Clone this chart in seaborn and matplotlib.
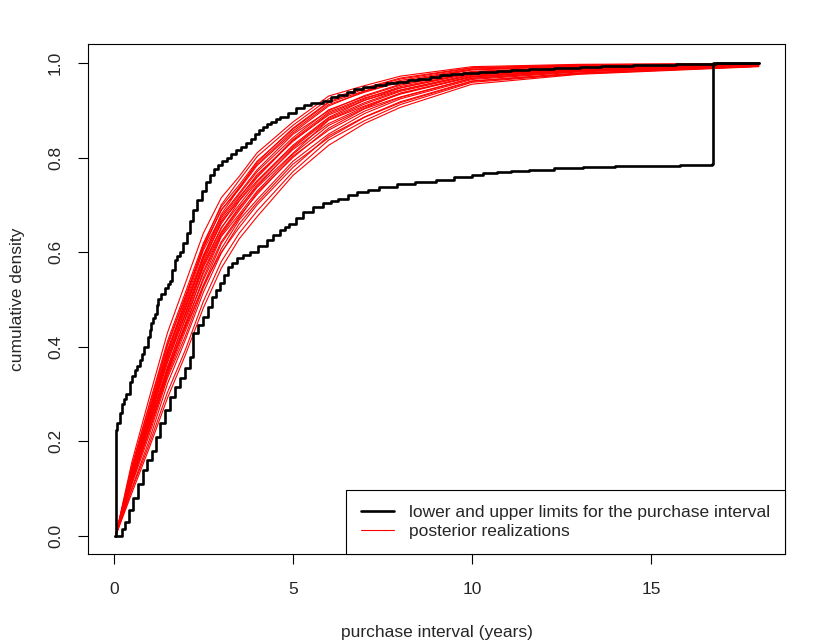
import pandas as pd
import matplotlib
matplotlib.use("Agg")
import matplotlib.pyplot as plt
from matplotlib.lines import Line2D
import seaborn as sns

# Upper and lower limits (step curves)
upper_x = [0.03, 0.05, 0.10, 0.16, 0.22, 0.28, 0.35, 0.45, 0.52, 0.60, 0.66, 0.73,
           0.80, 0.85, 0.95, 1.00, 1.05, 1.10, 1.15, 1.20, 1.23, 1.32, 1.42, 1.50,
           1.56, 1.63, 1.70, 1.77, 1.84, 1.94, 2.04, 2.12, 2.20, 2.33, 2.46, 2.57,
           2.68, 2.80, 2.90, 3.03, 3.16, 3.28, 3.40, 3.55, 3.70, 3.82, 3.95, 4.06,
           4.16, 4.28, 4.40, 4.52, 4.64, 4.85, 5.10, 5.30, 5.50, 5.84, 6.05, 6.26,
           6.50, 6.70, 6.96, 7.30, 7.60, 7.90, 8.20, 8.50, 8.83, 9.10, 9.40, 9.75,
           10.2, 10.7, 11.1, 11.6, 12.3, 13.0, 13.6, 14.5, 15.7, 16.8, 18.0]
upper_y = [0.0, 0.225, 0.24, 0.26, 0.28, 0.29, 0.30, 0.326, 0.338, 0.35, 0.36, 0.372,
           0.385, 0.40, 0.42, 0.435, 0.45, 0.46, 0.47, 0.488, 0.50, 0.512, 0.524, 0.532,
           0.54, 0.562, 0.584, 0.592, 0.60, 0.62, 0.64, 0.665, 0.69, 0.71, 0.73, 0.748,
           0.763, 0.775, 0.785, 0.793, 0.80, 0.808, 0.815, 0.823, 0.83, 0.84, 0.85, 0.858,
           0.865, 0.87, 0.875, 0.881, 0.886, 0.895, 0.905, 0.91, 0.915, 0.92, 0.927, 0.932,
           0.938, 0.944, 0.949, 0.953, 0.957, 0.96, 0.964, 0.967, 0.97, 0.974, 0.977, 0.979,
           0.981, 0.983, 0.985, 0.987, 0.99, 0.992, 0.994, 0.996, 0.998, 0.999, 1.0]

lower_x = [0.03, 0.17, 0.24, 0.30, 0.42, 0.53, 0.67, 0.81, 0.94, 1.06, 1.17, 1.28,
           1.42, 1.56, 1.70, 1.84, 1.98, 2.12, 2.20, 2.35, 2.49, 2.62, 2.74, 2.85,
           2.96, 3.07, 3.18, 3.30, 3.43, 3.62, 3.80, 4.03, 4.27, 4.45, 4.64, 4.77,
           4.90, 5.09, 5.28, 5.56, 5.84, 6.05, 6.26, 6.53, 6.80, 7.10, 7.40, 7.90,
           8.40, 9.00, 9.50, 10.0, 10.3, 10.7, 11.1, 11.6, 12.3, 13.1, 14.0, 15.0,
           15.8, 16.7, 16.73, 18.0]
lower_y = [0.0, 0.0, 0.015, 0.03, 0.055, 0.08, 0.11, 0.14, 0.16, 0.18, 0.21, 0.24,
           0.267, 0.294, 0.314, 0.334, 0.356, 0.378, 0.43, 0.447, 0.463, 0.484, 0.505, 0.52,
           0.535, 0.552, 0.569, 0.578, 0.588, 0.594, 0.60, 0.613, 0.626, 0.637, 0.647, 0.653,
           0.66, 0.672, 0.685, 0.695, 0.704, 0.708, 0.712, 0.72, 0.727, 0.732, 0.737, 0.744,
           0.748, 0.753, 0.758, 0.763, 0.767, 0.77, 0.772, 0.774, 0.777, 0.78, 0.782, 0.783,
           0.785, 0.786, 1.0, 1.0]

# Posterior realizations: sampled at common x values
post_x = [0.05, 0.5, 1.0, 1.5, 2.0, 2.5, 3.0, 3.5, 4.0, 5.0, 6.0, 7.0, 8.0, 10.0, 13.0, 18.0]
post_draws = [
    [0.0, 0.090, 0.188, 0.292, 0.383, 0.482, 0.566, 0.628, 0.675, 0.762, 0.826, 0.872, 0.906, 0.955, 0.976, 0.992],
    [0.0, 0.097, 0.196, 0.304, 0.394, 0.496, 0.580, 0.640, 0.687, 0.770, 0.837, 0.878, 0.912, 0.959, 0.977, 0.993],
    [0.0, 0.125, 0.240, 0.350, 0.440, 0.530, 0.600, 0.652, 0.700, 0.779, 0.846, 0.886, 0.918, 0.962, 0.979, 0.993],
    [0.0, 0.100, 0.205, 0.322, 0.415, 0.515, 0.598, 0.660, 0.705, 0.786, 0.842, 0.885, 0.916, 0.961, 0.978, 0.993],
    [0.0, 0.108, 0.216, 0.334, 0.423, 0.525, 0.607, 0.668, 0.711, 0.792, 0.850, 0.893, 0.924, 0.965, 0.981, 0.994],
    [0.0, 0.113, 0.224, 0.339, 0.434, 0.530, 0.618, 0.672, 0.726, 0.800, 0.862, 0.903, 0.928, 0.968, 0.983, 0.994],
    [0.0, 0.111, 0.228, 0.343, 0.446, 0.541, 0.622, 0.676, 0.722, 0.803, 0.858, 0.898, 0.927, 0.967, 0.982, 0.994],
    [0.0, 0.117, 0.226, 0.347, 0.444, 0.546, 0.633, 0.680, 0.729, 0.807, 0.868, 0.904, 0.936, 0.970, 0.984, 0.995],
    [0.0, 0.121, 0.237, 0.356, 0.459, 0.555, 0.636, 0.688, 0.737, 0.809, 0.879, 0.909, 0.936, 0.972, 0.985, 0.995],
    [0.0, 0.119, 0.234, 0.352, 0.450, 0.560, 0.640, 0.692, 0.743, 0.817, 0.872, 0.907, 0.934, 0.971, 0.985, 0.995],
    [0.0, 0.124, 0.242, 0.357, 0.461, 0.568, 0.643, 0.695, 0.739, 0.820, 0.880, 0.913, 0.940, 0.974, 0.986, 0.996],
    [0.0, 0.126, 0.247, 0.366, 0.472, 0.575, 0.652, 0.700, 0.748, 0.823, 0.883, 0.916, 0.942, 0.975, 0.987, 0.996],
    [0.0, 0.127, 0.252, 0.370, 0.468, 0.571, 0.650, 0.708, 0.751, 0.826, 0.885, 0.921, 0.943, 0.976, 0.988, 0.996],
    [0.0, 0.130, 0.253, 0.377, 0.470, 0.579, 0.664, 0.709, 0.758, 0.836, 0.890, 0.921, 0.947, 0.978, 0.989, 0.996],
    [0.0, 0.132, 0.257, 0.382, 0.480, 0.585, 0.660, 0.714, 0.764, 0.834, 0.893, 0.924, 0.950, 0.979, 0.989, 0.997],
    [0.0, 0.134, 0.260, 0.391, 0.485, 0.589, 0.667, 0.717, 0.760, 0.838, 0.896, 0.926, 0.947, 0.980, 0.990, 0.997],
    [0.0, 0.136, 0.263, 0.388, 0.490, 0.594, 0.672, 0.722, 0.770, 0.842, 0.901, 0.929, 0.953, 0.981, 0.991, 0.997],
    [0.0, 0.138, 0.266, 0.394, 0.495, 0.604, 0.676, 0.725, 0.774, 0.849, 0.899, 0.931, 0.955, 0.982, 0.991, 0.997],
    [0.0, 0.142, 0.269, 0.402, 0.504, 0.608, 0.690, 0.733, 0.783, 0.852, 0.909, 0.940, 0.959, 0.985, 0.993, 0.998],
    [0.0, 0.144, 0.276, 0.406, 0.508, 0.612, 0.688, 0.737, 0.786, 0.856, 0.912, 0.938, 0.960, 0.986, 0.993, 0.998],
    [0.0, 0.147, 0.281, 0.412, 0.515, 0.619, 0.696, 0.742, 0.792, 0.860, 0.916, 0.941, 0.963, 0.987, 0.994, 0.998],
    [0.0, 0.118, 0.245, 0.375, 0.480, 0.590, 0.680, 0.735, 0.790, 0.862, 0.918, 0.945, 0.966, 0.989, 0.995, 0.998],
    [0.0, 0.130, 0.255, 0.385, 0.500, 0.615, 0.700, 0.752, 0.802, 0.868, 0.924, 0.947, 0.968, 0.990, 0.996, 0.999],
    [0.0, 0.155, 0.295, 0.430, 0.535, 0.640, 0.715, 0.760, 0.810, 0.875, 0.930, 0.952, 0.972, 0.992, 0.997, 0.999],
]

legend_labels = ["lower and upper limits for the purchase interval", "posterior realizations"]

sns.set_style("white", {"axes.edgecolor": "black", "xtick.bottom": True, "ytick.left": True})
plt.rcParams['font.family'] = ['Liberation Sans', 'DejaVu Sans']
fs = 12.5

rows = []
for i, draw in enumerate(post_draws):
    for xv, yv in zip(post_x, draw):
        rows.append({"x": xv, "y": yv, "draw": i})
post_df = pd.DataFrame(rows)

fig = plt.figure(figsize=(8.3, 6.42), dpi=100)
ax = fig.add_axes([0.106, 0.137, 0.84, 0.7945])

sns.lineplot(data=post_df, x="x", y="y", units="draw", estimator=None,
             color="red", lw=0.8, legend=False, ax=ax)
sns.lineplot(x=upper_x, y=upper_y, color="black", lw=1.9, drawstyle="steps-post",
             sort=False, ax=ax)
sns.lineplot(x=lower_x, y=lower_y, color="black", lw=1.9, drawstyle="steps-post",
             sort=False, ax=ax)

ax.set_xlim(-0.72, 18.74)
ax.set_ylim(-0.038, 1.04)
ax.set_xticks([0, 5, 10, 15])
ax.set_yticks([0.0, 0.2, 0.4, 0.6, 0.8, 1.0])
ax.set_yticklabels(["0.0", "0.2", "0.4", "0.6", "0.8", "1.0"], rotation=90, va="center")
ax.tick_params(axis="x", direction="out", length=7, width=0.8, color="black",
               labelsize=fs, pad=13)
ax.tick_params(axis="y", direction="out", length=7, width=0.8, color="black",
               labelsize=fs, pad=11)
for s in ax.spines.values():
    s.set_linewidth(0.8)
    s.set_color("black")

ax.set_xlabel("purchase interval (years)", fontsize=fs, labelpad=20)
ax.set_ylabel("cumulative density", fontsize=fs, labelpad=16.5)

handles = [Line2D([], [], color="black", lw=1.9), Line2D([], [], color="red", lw=0.8)]
leg = ax.legend(handles, legend_labels, loc="lower right", bbox_to_anchor=(1.0, 0.0),
                borderaxespad=0, fancybox=False, framealpha=1, edgecolor="black",
                handlelength=1.9, handletextpad=0.9, labelspacing=0.25, borderpad=0.85,
                fontsize=fs)
leg.get_frame().set_linewidth(0.8)

fig.savefig("out.png", dpi=100)
